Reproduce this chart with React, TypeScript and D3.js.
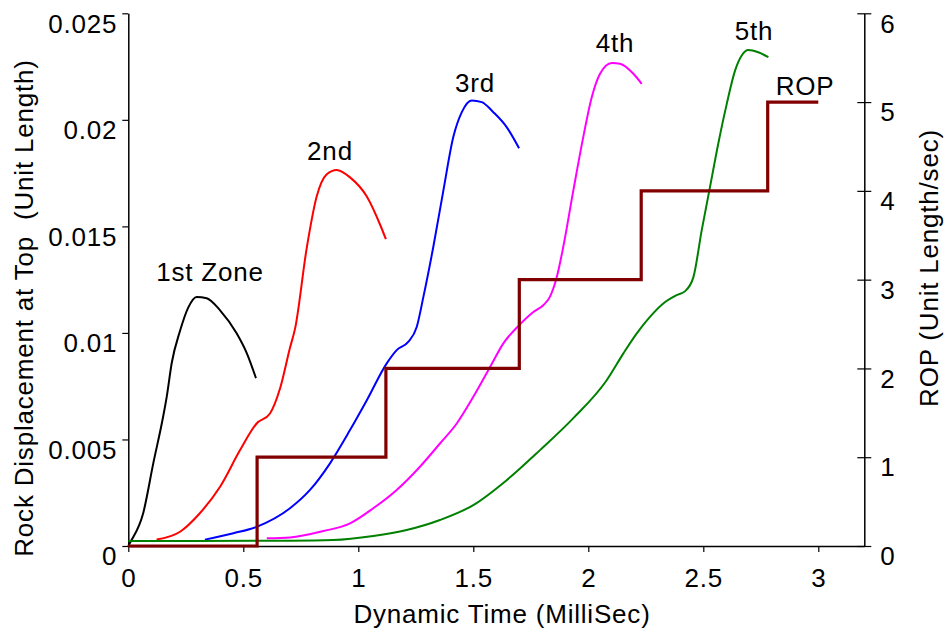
import { useRef, useEffect } from "react";
import * as d3 from "d3";

// displacement at top, [time ms, displacement]
const zone1 = [
  [0, 0], [0.007, 0.00014], [0.065, 0.00155], [0.109, 0.0039], [0.152, 0.0061],
  [0.167, 0.007], [0.189, 0.0086], [0.225, 0.0101], [0.261, 0.0112], [0.297, 0.01169],
  [0.341, 0.01163], [0.399, 0.01106], [0.471, 0.00998], [0.515, 0.00905], [0.555, 0.00788],
];
const zone2 = [
  [0.123, 0.0003], [0.225, 0.00067], [0.312, 0.00155], [0.399, 0.00278], [0.486, 0.0045],
  [0.558, 0.00575], [0.616, 0.00622], [0.66, 0.0074], [0.703, 0.0093], [0.725, 0.0102],
  [0.776, 0.014], [0.819, 0.0164], [0.863, 0.01745], [0.906, 0.01765], [0.964, 0.0173],
  [1.037, 0.0164], [1.094, 0.0151], [1.12, 0.0144],
];
const zone3 = [
  [0.333, 0.0003], [0.457, 0.0006], [0.558, 0.0009], [0.703, 0.00177], [0.79, 0.00263],
  [0.877, 0.00388], [0.964, 0.00544], [1.037, 0.00684], [1.123, 0.00856], [1.167, 0.00919],
  [1.217, 0.00958], [1.254, 0.01028], [1.283, 0.01169], [1.326, 0.01403], [1.37, 0.01669],
  [1.413, 0.01919], [1.45, 0.02036], [1.493, 0.02091], [1.537, 0.02083], [1.587, 0.02036],
  [1.645, 0.01966], [1.699, 0.01867],
];
const zone4 = [
  [0.602, 0.00036], [0.703, 0.0004], [0.848, 0.0007], [0.964, 0.00106], [1.065, 0.00177],
  [1.167, 0.00263], [1.268, 0.00372], [1.355, 0.00481], [1.428, 0.00575], [1.5, 0.007],
  [1.573, 0.0084], [1.63, 0.0095], [1.703, 0.0104], [1.761, 0.01098], [1.804, 0.0113],
  [1.833, 0.01169], [1.863, 0.01262], [1.891, 0.01403], [1.935, 0.01669], [1.978, 0.01919],
  [2.015, 0.02106], [2.051, 0.02216], [2.102, 0.02267], [2.138, 0.02263], [2.196, 0.02216],
  [2.232, 0.02169],
];
const zone5 = [
  [0, 0.00023], [0.703, 0.00025], [0.891, 0.00028], [1.065, 0.00047], [1.21, 0.00075],
  [1.355, 0.00122], [1.5, 0.00192], [1.645, 0.00309], [1.79, 0.0045], [1.935, 0.006],
  [2.08, 0.00778], [2.152, 0.00903], [2.21, 0.00997], [2.268, 0.01075], [2.326, 0.01138],
  [2.384, 0.01177], [2.42, 0.01195], [2.457, 0.01262], [2.493, 0.01481], [2.529, 0.01684],
  [2.565, 0.01888], [2.602, 0.02075], [2.638, 0.02231], [2.667, 0.02302], [2.696, 0.02328],
  [2.739, 0.02317], [2.783, 0.02294],
];

// ROP steps
const ropTimes = [0, 0.56, 1.12, 1.7, 2.23, 2.78, 3.0];
const ropValues = [0, 1, 2, 3, 4, 5, 5];

const xTicks = [0, 0.5, 1, 1.5, 2, 2.5, 3];
const yTicks = [0, 0.005, 0.01, 0.015, 0.02, 0.025];
const ropTicks = [0, 1, 2, 3, 4, 5, 6];

const zones = [
  { name: "1st Zone", data: zone1, color: "#000000", lx: 210, ly: 281 },
  { name: "2nd", data: zone2, color: "#ff0000", lx: 330, ly: 160 },
  { name: "3rd", data: zone3, color: "#0000ff", lx: 475, ly: 92 },
  { name: "4th", data: zone4, color: "#ff00ff", lx: 615, ly: 52 },
  { name: "5th", data: zone5, color: "#008000", lx: 754, ly: 40 },
];

const W = 946;
const H = 633;
const FONT = "'Liberation Sans', Arial, sans-serif";
const FS = 26;
const LS = 0.8;

export default function App() {
  const ref = useRef<SVGSVGElement>(null);
  useEffect(() => {
    if (!ref.current) return;
    const svg = d3.select(ref.current);
    svg.selectAll("*").remove();

    const x = d3.scaleLinear().domain([0, 3.2]).range([128.3, 864.3]);
    const y = d3.scaleLinear().domain([0, 0.025]).range([546, 13.3]);
    const yR = d3.scaleLinear().domain([0, 6]).range([546, 13.3]);

    const styleAxis = (g: any) => {
      g.attr("font-family", FONT).attr("font-size", FS);
      g.select(".domain").attr("stroke-width", 1.5);
      g.selectAll(".tick line").attr("stroke-width", 1.2);
      g.selectAll(".tick text").attr("fill", "#000").attr("letter-spacing", LS);
    };

    // left axis
    svg.append("g")
      .attr("transform", `translate(${x(0)},0)`)
      .call(d3.axisLeft(y).tickValues(yTicks).tickSize(6).tickSizeOuter(0).tickPadding(5)
        .tickFormat((d: any) => d3.format("~g")(d)))
      .call(styleAxis)
      .call((g: any) => g.selectAll(".tick text").attr("dy", "0.72em"));

    // right axis
    svg.append("g")
      .attr("transform", `translate(${x(3.2)},0)`)
      .call(d3.axisRight(yR).tickValues(ropTicks).tickSize(7).tickSizeOuter(0).tickPadding(9)
        .tickFormat((d: any) => String(d)))
      .call(styleAxis)
      .call((g: any) => {
        g.selectAll(".tick line").attr("x1", -7);
        g.selectAll(".tick text").attr("dy", "0.72em");
      });

    // bottom axis
    svg.append("g")
      .attr("transform", `translate(0,${y(0)})`)
      .call(d3.axisBottom(x).tickValues(xTicks).tickSize(6).tickSizeOuter(0).tickPadding(17)
        .tickFormat((d: any) => d3.format("~g")(d)))
      .call(styleAxis);

    const line = d3.line<number[]>()
      .x((d) => x(d[0]))
      .y((d) => y(d[1]))
      .curve(d3.curveMonotoneX);

    const label = (tx: number, ty: number, s: string, rot = 0) =>
      svg.append("text")
        .attr("transform", `translate(${tx},${ty}) rotate(${rot})`)
        .attr("text-anchor", "middle")
        .attr("font-family", FONT)
        .attr("font-size", FS)
        .attr("letter-spacing", LS)
        .style("white-space", "pre")
        .text(s);

    zones.forEach((z) => {
      svg.append("path")
        .attr("d", line(z.data)!)
        .attr("fill", "none")
        .attr("stroke", z.color)
        .attr("stroke-width", 2);
      label(z.lx, z.ly, z.name);
    });

    const ropLine = d3.line<number>()
      .x((_, i) => x(ropTimes[i]))
      .y((d) => yR(d))
      .curve(d3.curveStepAfter);
    svg.append("path")
      .attr("d", ropLine(ropValues)!)
      .attr("fill", "none")
      .attr("stroke", "#800000")
      .attr("stroke-width", 3.2);
    label(805, 95, "ROP");

    // axis titles
    label(502, 623, "Dynamic Time (MilliSec)");
    label(33, 308, "Rock Displacement at Top  (Unit Length)", -90);
    label(938, 268, "ROP (Unit Length/sec)", -90);
  }, []);

  return (
    <svg
      ref={ref}
      width={W}
      height={H}
      style={{ position: "absolute", left: 0, top: 0, background: "#fff" }}
    />
  );
}
